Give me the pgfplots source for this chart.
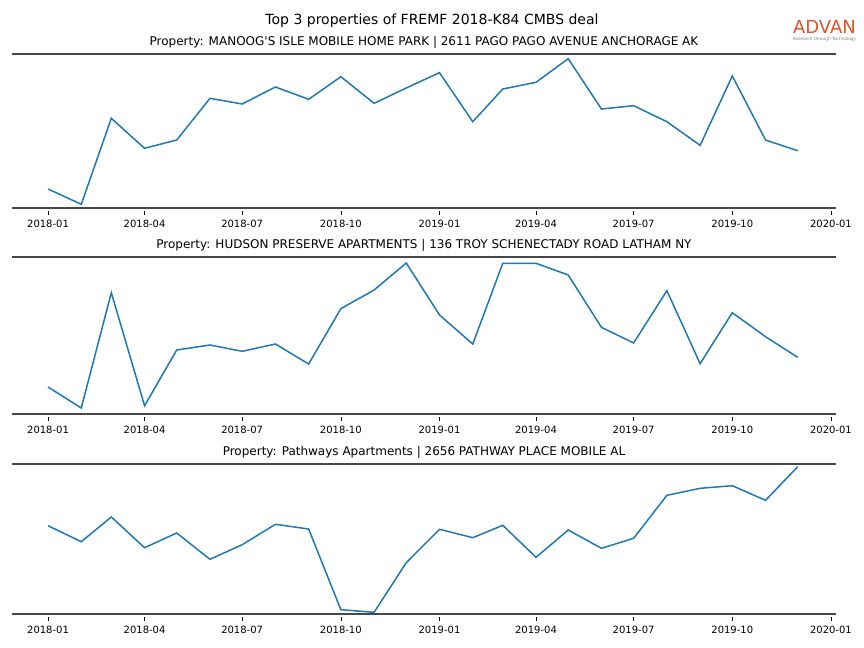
\documentclass[border=0pt]{standalone}
\usepackage{fontspec}
\setmainfont{DejaVu Sans}
\usepackage{pgfplots}
\usepackage{pgfplotstable}
\pgfplotsset{compat=1.18}
\definecolor{mplblue}{RGB}{31,119,180}
\definecolor{spine}{RGB}{72,72,72}
\definecolor{advan}{RGB}{226,83,44}

\pgfplotstableread{
day v
0 19
31 3.7
59 89.7
90 59.7
120 68
151 109.7
181 104
212 121
243 108.7
273 131.3
304 104.7
334 120
365 135.3
396 86.3
424 119
455 125.7
485 149.3
516 99
546 102.3
577 86.3
608 62.7
638 132
669 68
699 57.3
}\propA

\pgfplotstableread{
day v
0 27
31 6
59 121.3
90 8.3
120 64
151 69
181 62.7
212 70
243 50
273 105.3
304 124
334 151
365 99
396 70
424 150.7
455 150.7
485 139
516 86.7
546 71
577 123.3
608 50.3
638 101.3
669 77.3
699 56.7
}\propB

\pgfplotstableread{
day v
0 88.3
31 72.3
59 97
90 66.3
120 81
151 54.7
181 69.3
212 89.7
243 85
273 4.3
304 1.7
334 51.3
365 84.7
396 76.3
424 88.7
455 56.7
485 84
516 65.7
546 75.7
577 118.7
608 125.7
638 128.3
669 113.7
699 147.3
}\propC

\pgfplotsset{
  panel/.style={
    scale only axis, width=824bp,
    xmin=-33.6, xmax=734.7, ymin=0,
    separate axis lines,
    y axis line style={draw=none},
    x axis line style={draw=spine, line width=2bp},
    ytick=\empty,
    xtick={0,90,181,273,365,455,546,638,730},
    xticklabels={2018-01,2018-04,2018-07,2018-10,2019-01,2019-04,2019-07,2019-10,2020-01},
    xtick pos=lower,
    tick align=outside,
    major tick length=3.7bp,
    xtick style={black, line width=0.6bp, yshift=-3bp},
    xticklabel style={font=\fontsize{10bp}{12bp}\selectfont, anchor=base, yshift=-16bp},
    title style={font=\fontsize{12bp}{14bp}\selectfont, anchor=base, at={(0.5,1)}, yshift=2.5bp},
    clip=false,
  },
  every axis plot/.append style={mplblue, line width=1.5bp},
}

\begin{document}
\begin{tikzpicture}
\path[use as bounding box] (0,0) rectangle (864bp,-648bp);

\node[anchor=base, font=\fontsize{14bp}{16bp}\selectfont] at (432bp,-24bp) {Top 3 properties of FREMF 2018-K84 CMBS deal};
\node[anchor=base, text=advan, font=\fontsize{18bp}{20bp}\selectfont, inner sep=0pt] at (824.5bp,-33.5bp) {ADVAN};
\node[anchor=base, text=gray, font=\fontsize{4.3bp}{5bp}\selectfont, inner sep=0pt] at (824.5bp,-40bp) {Research through Technology};

\begin{axis}[panel, at={(12bp,-208bp)}, anchor=south west, height=154bp, ymax=154,
  title={Property: MANOOG\textquotesingle S ISLE MOBILE HOME PARK | 2611 PAGO PAGO AVENUE ANCHORAGE AK}]
\addplot[mplblue, line width=1.5bp] table[x=day, y=v] {\propA};
\end{axis}

\begin{axis}[panel, at={(12bp,-414bp)}, anchor=south west, height=157.3bp, ymax=157.3,
  title={Property: HUDSON PRESERVE APARTMENTS | 136 TROY SCHENECTADY ROAD LATHAM NY}]
\addplot[mplblue, line width=1.5bp] table[x=day, y=v] {\propB};
\end{axis}

\begin{axis}[panel, at={(12bp,-614bp)}, anchor=south west, height=150bp, ymax=150,
  title={Property: Pathways Apartments | 2656 PATHWAY PLACE MOBILE AL}]
\addplot[mplblue, line width=1.5bp] table[x=day, y=v] {\propC};
\end{axis}
\end{tikzpicture}
\end{document}
